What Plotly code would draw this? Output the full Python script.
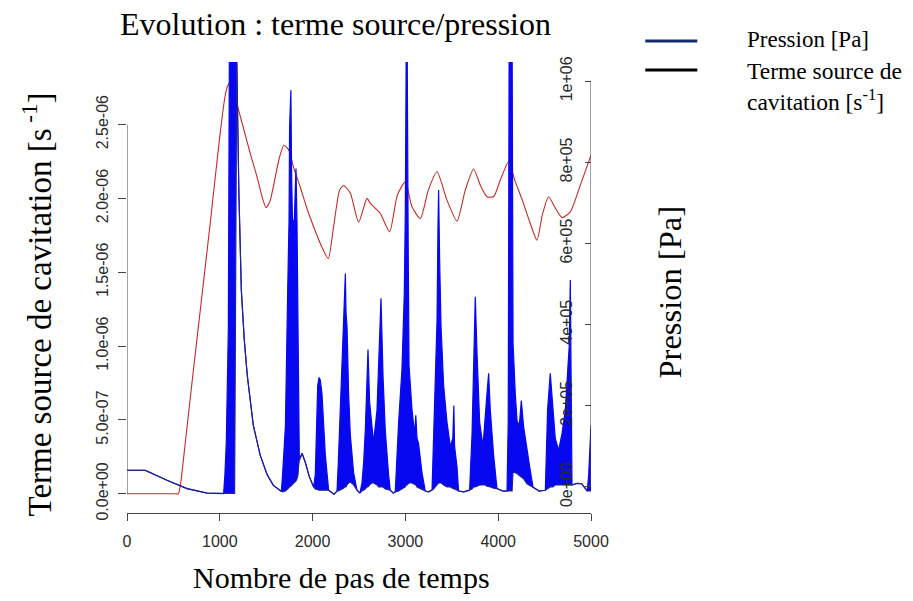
import plotly.graph_objects as go

# ---------------- data ----------------
step_ticks = [0, 1000, 2000, 3000, 4000, 5000]
src_ticks = [0.0, 0.5e-6, 1.0e-6, 1.5e-6, 2.0e-6, 2.5e-6]
p_ticks = [0, 2e5, 4e5, 6e5, 8e5, 1e6]

# red curve (left axis, terme source, s^-1), values in 1e-6
src_steps = [0, 300, 520, 553, 580, 620, 700, 800, 900, 1000, 1059, 1090, 1124, 1160, 1253, 1330, 1401,
             1460, 1498, 1540, 1576, 1640, 1690, 1741, 1800, 1867, 1940, 2011, 2100, 2169,
             2226, 2291, 2334, 2406, 2496, 2586, 2622, 2680, 2730, 2830, 2913, 2999, 3071,
             3161, 3247, 3341, 3448, 3556, 3645, 3735, 3807, 3879, 3950, 4023, 4112, 4180,
             4260, 4340, 4418, 4475, 4543, 4615, 4688, 4777, 4885, 5000]
src_vals_e6 = [0, 0, 0, 0, 0.08, 0.3, 0.75, 1.3, 1.85, 2.42, 2.70, 2.77, 2.79, 2.70, 2.48, 2.30, 2.146,
               2.0, 1.938, 1.98, 2.077, 2.27, 2.36, 2.33, 2.2, 2.077, 1.93, 1.808, 1.67, 1.593,
               1.808, 2.056, 2.087, 2.036, 1.839, 2.0, 1.966, 1.93, 1.898, 1.774, 2.022, 2.112, 1.943,
               1.864, 2.056, 2.180, 1.988, 1.846, 2.056, 2.199, 2.090, 2.011,
               2.011, 2.124, 2.248, 2.12, 1.988, 1.84, 1.717, 1.887, 2.011, 1.935, 1.870, 1.909, 2.090, 2.293]

# blue curve (right axis, pression), lower / upper envelope of the fast oscillation, in 1e5 Pa
p_steps = [0, 197, 431, 647, 862, 1041, 1055, 1070, 1092, 1105, 1150, 1160, 1183, 1205, 1232,
           1264, 1296, 1361, 1436, 1509, 1577, 1663,
           1675, 1690, 1707, 1731, 1746, 1752, 1766, 1775, 1784, 1803, 1821, 1832, 1843, 1849, 1857,
           1886, 1921, 1964, 2011,
           2029, 2040, 2055, 2070, 2083, 2101, 2119, 2137, 2155, 2173, 2230, 2263,
           2277, 2299, 2320, 2334, 2347, 2353, 2360, 2371, 2388, 2406, 2442, 2478, 2510,
           2532, 2550, 2568, 2586, 2597, 2614, 2640, 2657, 2694, 2711, 2737, 2759, 2783, 2819,
           2837, 2870,
           2891, 2927, 2963, 2988, 2999, 3008, 3020, 3030, 3039, 3071, 3100, 3112, 3125, 3142,
           3179, 3214, 3250,
           3287, 3304, 3322, 3341, 3351, 3358, 3369, 3384, 3412, 3448, 3484, 3511, 3522, 3530,
           3556, 3573, 3630,
           3692, 3718, 3735, 3753, 3772, 3800, 3836, 3861, 3879, 3897, 3915, 3950, 3987, 4050,
           4095, 4108, 4118, 4150, 4160, 4184, 4203, 4227, 4249, 4274, 4310, 4346, 4375, 4440,
           4508, 4532, 4561, 4590, 4615, 4651, 4688, 4723, 4748, 4766, 4777, 4786, 4795, 4850,
           4900, 4940, 4960,
           4975, 4990, 5000]
p_low_e5 = [0.41, 0.41, 0.165, -0.04, -0.15, -0.165, -0.16, -0.16, -0.16, -0.16, -0.16, -0.16, 10.5, 7.32, 4.85,
            3.62, 2.75, 1.52, 0.78, 0.31, 0.04, -0.11,
            -0.12, -0.11, -0.1, -0.05, 0.0, 0.0, 0.02, 0.04, 0.05, 0.1, 0.15, 0.2, 0.3, 0.5, 0.66,
            0.83, 0.61, 0.26, 0.0,
            -0.05, -0.06, -0.08, -0.08, -0.08, -0.08, -0.08, -0.08, -0.08, -0.08, -0.18, -0.1,
            -0.1, -0.08, -0.05, -0.03, 0.0, 0.0, 0.0, 0.05, 0.1, 0.12, 0.05, -0.08, -0.15,
            -0.1, -0.08, -0.05, 0.0, 0.0, 0.05, 0.1, 0.1, 0.05, 0.0, 0.0, 0.0, -0.05, -0.08,
            -0.08, -0.15,
            -0.12, -0.1, -0.05, 0.0, 0.0, 0.05, 0.05, 0.08, 0.1, 0.1, 0.05, 0.05, 0.0, -0.02,
            -0.05, -0.1, -0.12,
            -0.08, -0.05, 0.0, 0.05, 0.1, 0.1, 0.1, 0.1, 0.05, 0.0, 0.0, -0.05, -0.05, -0.05,
            -0.08, -0.1, -0.12,
            -0.08, -0.05, 0.0, 0.0, 0.02, 0.05, 0.05, 0.05, 0.02, 0.0, 0.0, -0.03, -0.04, -0.1,
            -0.1, -0.1, -0.1, -0.1, 0.37, 0.35, 0.33, 0.28, 0.25, 0.2, 0.08, 0.03, 0.0, -0.1,
            -0.08, -0.05, 0.0, 0.0, 0.05, 0.05, 0.05, 0.05, 0.05, 0.05, 0.05, 0.05, 0.05, 0.09,
            0.08, -0.04, -0.1,
            -0.1, -0.1, -0.1]
p_high_e5 = [0.41, 0.41, 0.165, -0.04, -0.15, -0.165, 0.3, 1.1, 3.9, 12, 12, 12, 10.5, 7.32, 4.85,
             3.62, 2.75, 1.52, 0.78, 0.31, 0.04, -0.11,
             0.25, 0.8, 1.5, 4.78, 6.57, 8.87, 9.78, 7.5, 6.5, 6.6, 7.85, 6.5, 3.1, 1.08, 0.66,
             0.83, 0.61, 0.26, 0.0,
             0.3, 1.6, 2.5, 2.7, 2.63, 2.3, 1.5, 0.8, 0.35, -0.08, -0.18, -0.1,
             0.6, 1.89, 3.0, 3.95, 4.9, 5.26, 4.3, 3.95, 2.3, 1.3, 0.35, -0.08, -0.15,
             0.1, 0.6, 1.4, 2.63, 3.39, 2.1, 1.4, 1.1, 1.89, 3.12, 4.65, 2.72, 1.4, 0.3,
             -0.08, -0.15,
             -0.12, 1.6, 2.9, 4.78, 6.75, 10.5, 10.5, 6.0, 3.0, 1.9, 1.3, 1.77, 1.2, 1.07,
             0.35, -0.1, -0.12,
             -0.08, 1.2, 2.5, 4.11, 6.41, 7.32, 5.59, 3.95, 2.5, 1.6, 1.0, 1.2, 2.01, 1.0,
             0.5, -0.1, -0.12,
             -0.08, 1.3, 3.12, 4.69, 3.28, 1.6, 1.0, 1.64, 2.30, 2.80, 1.89, 0.8, -0.04, -0.1,
             -0.1, 1.6, 11, 11, 3.54, 2.3, 1.64, 1.5, 2.13, 1.48, 0.9, 0.4, 0.0, -0.1,
             -0.08, 1.89, 2.80, 1.89, 1.2, 0.9, 1.32, 1.89, 2.72, 3.5, 5.1, 1.0, 0.05, 0.09,
             0.08, -0.04, -0.1,
             0.3, 1.0, 1.52]

src_values = [v * 1e-6 for v in src_vals_e6]
p_low = [v * 1e5 for v in p_low_e5]
p_high = [v * 1e5 for v in p_high_e5]

# ---------------- geometry (pixels) ----------------
W, H = 913, 601
L, R, T, B = 126.7, 590.7, 62.0, 512.7
PW, PH = R - L, B - T


def px(xp):
    return (xp - L) / PW


def py(yp):
    return (B - yp) / PH


SANS = "Liberation Sans, Arial, sans-serif"
SERIF = "Liberation Serif, Times New Roman, serif"
AX = "#444444"
TXT = "#2a2a2a"

fig = go.Figure()

fig.add_trace(go.Scatter(x=src_steps, y=src_values, mode="lines", yaxis="y",
                         line=dict(color="#c42a2a", width=1.1, shape="spline", smoothing=0.6),
                         showlegend=False, hoverinfo="skip"))

fig.add_trace(go.Scatter(x=p_steps, y=p_low, mode="lines", yaxis="y2",
                         line=dict(color="#1c1c8c", width=0), showlegend=False, hoverinfo="skip"))
fig.add_trace(go.Scatter(x=p_steps, y=p_high, mode="lines", yaxis="y2", fill="tonexty",
                         fillcolor="#0808f0", line=dict(color="#0808f0", width=1.2),
                         showlegend=False, hoverinfo="skip"))
fig.add_trace(go.Scatter(x=p_steps, y=p_low, mode="lines", yaxis="y2",
                         line=dict(color="#22228a", width=1.1), showlegend=False, hoverinfo="skip"))

src_lo = -(B - 493.5) / 147.6 * 1e-6
src_hi = (493.5 - T) / 147.6 * 1e-6
p_lo = -(B - 486.7) / 405.5 * 1e6
p_hi = (486.7 - T) / 405.5 * 1e6

fig.update_layout(
    width=W, height=H,
    margin=dict(l=L, r=W - R, t=T, b=H - B, pad=0),
    paper_bgcolor="white", plot_bgcolor="white",
    showlegend=False,
    title=dict(text="Evolution : terme source/pression", font=dict(family=SERIF, size=32, color="black"),
               x=335.5 / W, xref="container", xanchor="center",
               y=1 - 24 / H, yref="container", yanchor="middle"),
    xaxis=dict(range=[0, 5000], tickvals=step_ticks, ticktext=[str(v) for v in step_ticks],
               ticks="outside", ticklen=7, tickcolor=AX, showline=True, linecolor=AX, linewidth=1,
               showgrid=False, zeroline=False, tickfont=dict(family=SANS, size=16, color=TXT),
               ticklabelstandoff=7, ticklabeloverflow="allow"),
    yaxis=dict(range=[src_lo, src_hi], tickvals=src_ticks, ticktext=[f"{v:.1e}" for v in src_ticks],
               ticks="outside", ticklen=8, tickcolor=AX, showline=False, showgrid=False, zeroline=False,
               tickangle=-90, tickfont=dict(family=SANS, size=16, color=TXT), ticklabelstandoff=4),
    yaxis2=dict(range=[p_lo, p_hi], overlaying="y", anchor="free", position=1.0, side="right",
                tickvals=p_ticks, ticktext=[f"{v:.0e}" for v in p_ticks],
                ticks="inside", ticklabelposition="inside", ticklabeloverflow="allow",
                ticklen=6, tickcolor=AX,
                showline=False, showgrid=False, zeroline=False,
                tickangle=-90, tickfont=dict(family=SANS, size=16, color=TXT), ticklabelstandoff=10),
)

# axis lines spanning only the tick range (R style)
fig.add_shape(type="line", xref="x", yref="y", x0=step_ticks[0], x1=step_ticks[0],
              y0=src_ticks[0], y1=src_ticks[-1], line=dict(color=AX, width=1))
fig.add_shape(type="line", xref="x", yref="y2", x0=step_ticks[-1], x1=step_ticks[-1],
              y0=p_ticks[0], y1=p_ticks[-1], line=dict(color=AX, width=1))

# axis titles
fig.add_annotation(text="Nombre de pas de temps", xref="paper", yref="paper", x=px(341), y=py(577),
                   showarrow=False, xanchor="center", yanchor="middle",
                   font=dict(family=SERIF, size=30, color="black"))
fig.add_annotation(text="Terme source de cavitation [s<sup> -1</sup>]", xref="paper", yref="paper",
                   x=px(37), y=py(304), textangle=-90, showarrow=False, xanchor="center", yanchor="middle",
                   font=dict(family=SERIF, size=33, color="black"))
fig.add_annotation(text="Pression [Pa]", xref="paper", yref="paper", x=px(670), y=py(292),
                   textangle=-90, showarrow=False, xanchor="center", yanchor="middle",
                   font=dict(family=SERIF, size=32.5, color="black"))

# legend (drawn manually, outside the plot area)
fig.add_shape(type="line", xref="paper", yref="paper", x0=px(645), x1=px(697), y0=py(41), y1=py(41),
              line=dict(color="#142a6e", width=3))
fig.add_shape(type="line", xref="paper", yref="paper", x0=px(645), x1=px(697), y0=py(70), y1=py(70),
              line=dict(color="black", width=3))
fig.add_annotation(text="Pression [Pa]", xref="paper", yref="paper", x=px(745), y=py(40),
                   showarrow=False, xanchor="left", yanchor="middle", align="left",
                   font=dict(family=SERIF, size=23, color="black"))
fig.add_annotation(text="Terme source de", xref="paper", yref="paper",
                   x=px(745), y=py(71), showarrow=False, xanchor="left", yanchor="middle", align="left",
                   font=dict(family=SERIF, size=23.5, color="black"))
fig.add_annotation(text="cavitation [s<sup>-1</sup>]", xref="paper", yref="paper",
                   x=px(745), y=py(100), showarrow=False, xanchor="left", yanchor="middle", align="left",
                   font=dict(family=SERIF, size=23.5, color="black"))

fig.write_html("out.html", post_script="document.body.style.margin='0';",
               config={"displayModeBar": False})
